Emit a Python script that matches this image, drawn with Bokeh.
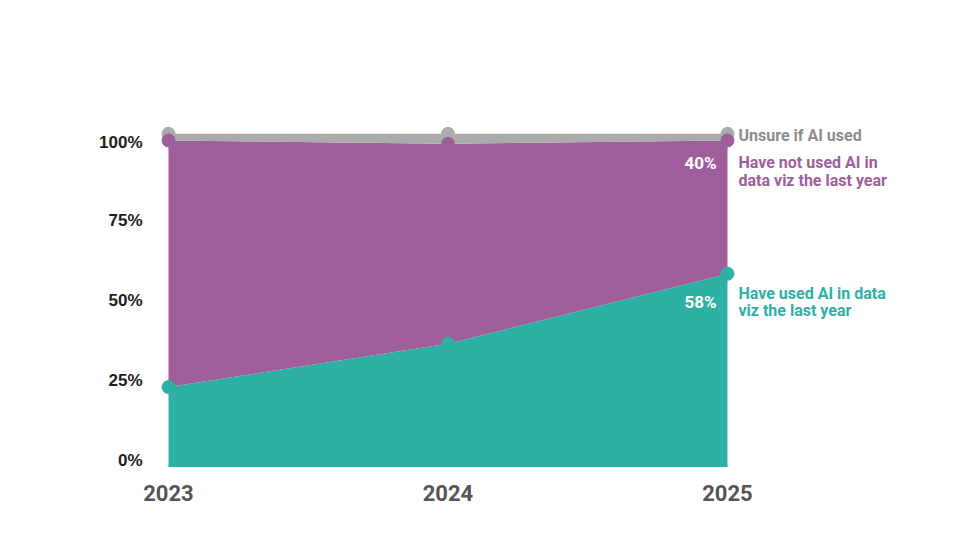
import numpy as np
from bokeh.plotting import figure
from bokeh.models import ColumnDataSource, Range1d, FixedTicker
from bokeh.core.properties import value
from bokeh.embed import file_html
from bokeh.resources import INLINE

# ---- data ----
years = [2023, 2024, 2025]
used_ai = [24, 37, 58]
not_used_ai = [74, 60, 40]
unsure = [2, 3, 2]
series_labels = ["Have used AI in data\nviz the last year",
                 "Have not used AI in\ndata viz the last year",
                 "Unsure if AI used"]
y_tick_labels = ["0%", "25%", "50%", "75%", "100%"]
x_tick_labels = ["2023", "2024", "2025"]

# ---- styles ----
TEAL = "#2eb0a4"
PURPLE = "#9e5e9b"
GREY = "#ababab"
FONT = "Roboto"

used = np.array(used_ai, dtype=float)
top_purple = used + np.array(not_used_ai, dtype=float)
top_total = top_purple + np.array(unsure, dtype=float)

src = ColumnDataSource(dict(x=years, used=used_ai, not_used=not_used_ai, unsure=unsure,
                            y_used=used, y_purple=top_purple, y_total=top_total))

p = figure(width=944, height=524, output_backend="svg", toolbar_location=None,
           x_range=Range1d(2022.92844, 2025.61896), y_range=Range1d(-1.02, 109.98),
           min_border_left=148, min_border_right=44, min_border_top=100, min_border_bottom=54)
p.outline_line_color = None
p.grid.visible = False
p.background_fill_color = "white"
p.border_fill_color = "white"

p.varea_stack(stackers=["used", "not_used", "unsure"], x="x", color=[TEAL, PURPLE, GREY], source=src)

p.scatter("x", "y_total", size=13, color=GREY, source=src)
p.scatter("x", "y_purple", size=13, color=PURPLE, source=src)
p.scatter("x", "y_used", size=13, color=TEAL, source=src)

# right-side series labels
last = years[-1]
p.text(x=[last], y=[top_total[-1]], text=[series_labels[2]], x_offset=11, y_offset=2,
       text_font=value(FONT), text_font_style="bold", text_font_size="16px",
       text_color="#8c8c8c", text_align="left", text_baseline="middle")
p.text(x=[last], y=[top_purple[-1]], text=[series_labels[1]], x_offset=11, y_offset=31,
       text_font=value(FONT), text_font_style="bold", text_font_size="16px",
       text_color=PURPLE, text_align="left", text_baseline="middle", text_line_height=0.92)
p.text(x=[last], y=[used[-1]], text=[series_labels[0]], x_offset=11, y_offset=28,
       text_font=value(FONT), text_font_style="bold", text_font_size="16px",
       text_color=TEAL, text_align="left", text_baseline="middle", text_line_height=0.92)

# value labels inside areas
p.text(x=[last], y=[top_purple[-1]], text=[f"{not_used_ai[-1]}%"], x_offset=-11, y_offset=23,
       text_font=value(FONT), text_font_style="bold", text_font_size="17px",
       text_color="white", text_align="right", text_baseline="middle")
p.text(x=[last], y=[used[-1]], text=[f"{used_ai[-1]}%"], x_offset=-11, y_offset=28,
       text_font=value(FONT), text_font_style="bold", text_font_size="17px",
       text_color="white", text_align="right", text_baseline="middle")

# axes
y_tick_pos = [2, 26, 50, 74, 97.5]
p.yaxis.ticker = FixedTicker(ticks=y_tick_pos)
p.yaxis.major_label_overrides = {t: l for t, l in zip(y_tick_pos, y_tick_labels)}
p.yaxis.axis_line_color = None
p.yaxis.major_tick_line_color = None
p.yaxis.minor_tick_line_color = None
p.yaxis.major_tick_in = 0
p.yaxis.major_tick_out = 0
p.yaxis.major_label_standoff = 6
p.yaxis.major_label_text_font = "Liberation Sans"
p.yaxis.major_label_text_font_style = "bold"
p.yaxis.major_label_text_font_size = "17px"
p.yaxis.major_label_text_color = "#1e1e1e"

p.xaxis.ticker = FixedTicker(ticks=years)
p.xaxis.major_label_overrides = {y: l for y, l in zip(years, x_tick_labels)}
p.xaxis.axis_line_color = None
p.xaxis.major_tick_line_color = None
p.xaxis.minor_tick_line_color = None
p.xaxis.major_tick_in = 0
p.xaxis.major_tick_out = 0
p.xaxis.major_label_standoff = 14
p.xaxis.major_label_text_font = FONT
p.xaxis.major_label_text_font_style = "bold"
p.xaxis.major_label_text_font_size = "22px"
p.xaxis.major_label_text_color = "#555555"

open("out.html", "w").write(file_html(p, INLINE))
